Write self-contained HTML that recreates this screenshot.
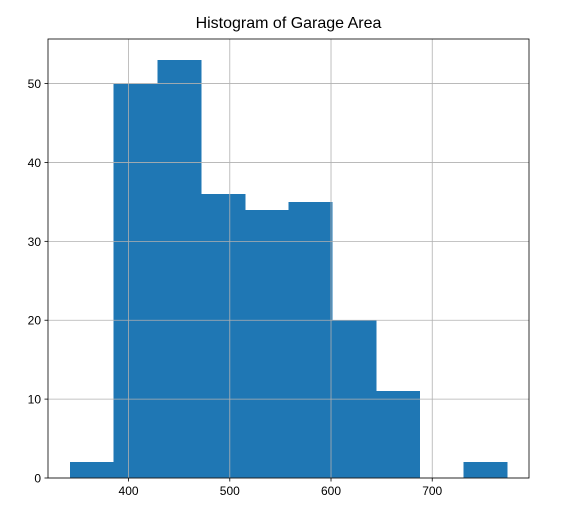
<!DOCTYPE html>
<html><head><meta charset="utf-8"><style>
body{margin:0;background:#fff;font-family:"Liberation Sans","DejaVu Sans",sans-serif;}
</style></head><body>
<svg id="chart" width="566" height="524" xmlns="http://www.w3.org/2000/svg">
<text x="288.5" y="28" font-size="16" text-anchor="middle" fill="#000">Histogram of Garage Area</text>
<g id="bars" shape-rendering="crispEdges"></g><g id="grid"></g><g id="axes"></g>
</svg>
<script>
const binStart = 342;
const binWidth = 43.2;
const counts = [2, 50, 53, 36, 34, 35, 20, 11, 0, 2];
const xTicks = [400, 500, 600, 700];
const yTicks = [0, 10, 20, 30, 40, 50];
const L=48,R=529,T=39,B=478;
const xmin=320.4,xmax=795.6,ymin=0,ymax=55.65;
const sx=v=>L+(v-xmin)/(xmax-xmin)*(R-L);
const sy=v=>B-(v-ymin)/(ymax-ymin)*(B-T);
const NS="http://www.w3.org/2000/svg";
function mk(tag,attrs,parent){const e=document.createElementNS(NS,tag);for(const k in attrs)e.setAttribute(k,attrs[k]);parent.appendChild(e);return e;}
const grid=document.getElementById('grid'),bars=document.getElementById('bars'),axes=document.getElementById('axes');
xTicks.forEach(t=>{const x=sx(t);
 const g=mk('line',{x1:x,x2:x,y1:T,y2:B,stroke:'#b0b0b0','stroke-width':0.8},grid);
 
 
 const tk=mk('line',{x1:x,x2:x,y1:B,y2:B+3.5,stroke:'#000','stroke-width':0.8},axes);
 
 
 const tx=mk('text',{x:x,y:B+17,'font-size':12,'text-anchor':'middle',fill:'#000'},axes);tx.textContent=t;
 
 
});
yTicks.forEach(t=>{const y=sy(t);
 const g=mk('line',{x1:L,x2:R,y1:y,y2:y,stroke:'#b0b0b0','stroke-width':0.8},grid);
 
 
 const tk=mk('line',{x1:L-3.5,x2:L,y1:y,y2:y,stroke:'#000','stroke-width':0.8},axes);
 
 
 const tx=mk('text',{x:L-7,y:y+4.5,'font-size':12,'text-anchor':'end',fill:'#000'},axes);tx.textContent=t;
 
 
});
counts.forEach((c,i)=>{if(c<=0)return;
 const x0=sx(binStart+i*binWidth),x1=sx(binStart+(i+1)*binWidth);
 const r=mk('rect',{x:x0,y:sy(c),width:x1-x0+0.5,height:sy(0)-sy(c),fill:'#1f77b4'},bars);
 
 
});
const fr=mk('rect',{x:L,y:T,width:R-L,height:B-T,fill:'none',stroke:'#000','stroke-width':0.8},axes);


</script>
</body></html>
